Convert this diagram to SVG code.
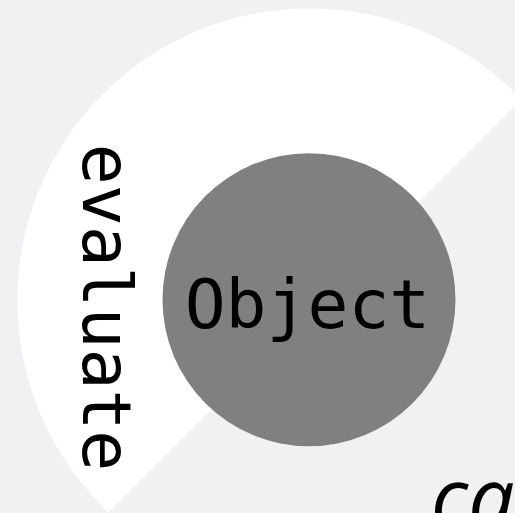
<svg xmlns="http://www.w3.org/2000/svg" width="515" height="513" viewBox="0 0 515 513">
  <style>
    .lbl { font-family: "DejaVu Sans Mono", "Liberation Mono", monospace; font-size: 68px; fill: #000000; }
    .ital { font-family: "Open Sans", "Noto Sans", sans-serif; font-size: 82px; font-style: italic; fill: #000000; }
  </style>
  <rect x="0" y="0" width="515" height="513" fill="#f0f1f3"/>
  <g id="sector-evaluate">
    <path d="M 521.4 99.6 A 292 292 0 1 0 108.6 512.4 Z" fill="#ffffff"/>
    <text class="lbl" text-anchor="middle" transform="translate(83,307.5) rotate(90)">evaluate</text>
  </g>
  <g id="sector-call">
    <text class="ital" x="431" y="527">ca</text>
  </g>
  <g id="node-object">
    <circle cx="309" cy="299.7" r="146.5" fill="#808080"/>
    <text class="lbl" x="307.5" y="328" text-anchor="middle">Object</text>
  </g>
  <g id="connectors"/>
</svg>
